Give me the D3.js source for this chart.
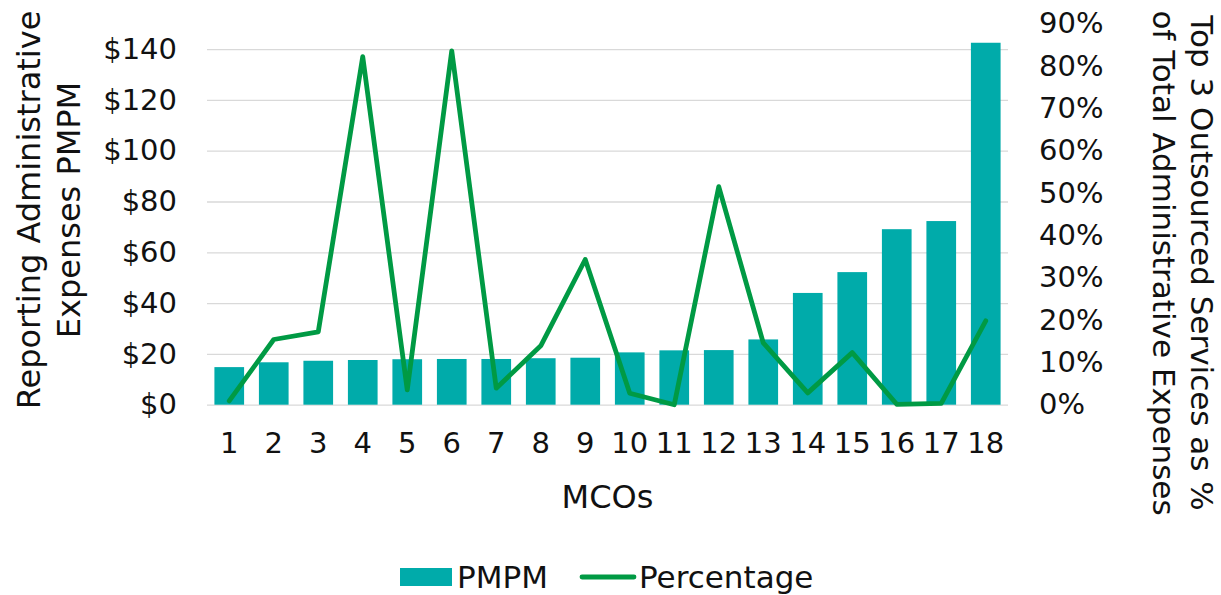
<!DOCTYPE html>
<html>
<head>
<meta charset="utf-8">
<script src="https://cdn.jsdelivr.net/npm/d3@7"></script>
<style>
  html, body { margin: 0; padding: 0; background: #fff; }
  svg { display: block; font-family: "DejaVu Sans", "Open Sans", sans-serif; }
</style>
</head>
<body>
<svg id="chart" width="1221" height="595"></svg>
<script>
const categories = ["1","2","3","4","5","6","7","8","9","10","11","12","13","14","15","16","17","18"];
const pmpm = [14.8, 16.7, 17.3, 17.6, 17.9, 18.0, 18.0, 18.3, 18.5, 20.6, 21.4, 21.5, 25.7, 44.0, 52.2, 69.1, 72.3, 142.5];
const percentage = [0.9, 15.4, 17.2, 82.2, 3.5, 83.6, 3.9, 13.9, 34.3, 2.7, 0.0, 51.5, 14.6, 2.8, 12.3, 0.1, 0.3, 19.8];
const leftTicks = [0, 20, 40, 60, 80, 100, 120, 140];
const rightTicks = [0, 10, 20, 30, 40, 50, 60, 70, 80, 90];
const seriesNames = ["PMPM", "Percentage"];
const leftTitle = ["Reporting Administrative", "Expenses PMPM"];
const rightTitle = ["Top 3 Outsourced Services as %", "of Total Administrative Expenses"];
const xTitle = "MCOs";

const barColor = "#00ABAA";
const lineColor = "#009A44";
const gridColor = "#d9d9d9";
const textColor = "#111";
const tickFont = 29;
const titleFont = 32;

const plot = { left: 207, right: 1008, top: 23.7, bottom: 404.7 };
const svg = d3.select("#chart");

const x = d3.scaleBand().domain(categories).range([plot.left, plot.right]).paddingInner(0.333).paddingOuter(0.1665);
const yL = d3.scaleLinear().domain([0, 150]).range([plot.bottom, plot.top]);
const yR = d3.scaleLinear().domain([0, 90]).range([plot.bottom, plot.top]);

const styleAxis = g => {
  g.attr("font-family", null).attr("font-size", null);
  g.select(".domain").remove();
  g.selectAll("text").attr("font-size", tickFont).attr("fill", textColor);
};

// gridlines
svg.append("g")
  .attr("transform", `translate(${plot.left},0)`)
  .call(d3.axisLeft(yL).tickValues(leftTicks).tickSize(-(plot.right - plot.left)).tickFormat(""))
  .call(g => g.select(".domain").remove())
  .call(g => g.selectAll("line").attr("stroke", gridColor).attr("stroke-width", 1.3));

// left axis labels
svg.append("g")
  .attr("transform", `translate(${plot.left},0)`)
  .call(d3.axisLeft(yL).tickValues(leftTicks).tickSize(0).tickPadding(30).tickFormat(d => "$" + d))
  .call(styleAxis);

// right axis labels
svg.append("g")
  .attr("transform", `translate(${plot.right},0)`)
  .call(d3.axisRight(yR).tickValues(rightTicks).tickSize(0).tickPadding(31).tickFormat(d => d + "%"))
  .call(styleAxis);

// bars
svg.append("g").selectAll("rect").data(pmpm).join("rect")
  .attr("x", (d, i) => x(categories[i]))
  .attr("width", x.bandwidth())
  .attr("y", d => yL(d))
  .attr("height", d => yL(0) - yL(d))
  .attr("fill", barColor);

// x axis labels
svg.append("g")
  .attr("transform", `translate(0,${plot.bottom})`)
  .call(d3.axisBottom(x).tickSize(0).tickPadding(28))
  .call(styleAxis);

// line
const line = d3.line()
  .x((d, i) => x(categories[i]) + x.bandwidth() / 2)
  .y(d => yR(d));
svg.append("path").datum(percentage)
  .attr("d", line)
  .attr("fill", "none")
  .attr("stroke", lineColor)
  .attr("stroke-width", 4.8)
  .attr("stroke-linejoin", "round")
  .attr("stroke-linecap", "round");

// left title
const lt = svg.append("text")
  .attr("transform", `translate(0,210) rotate(-90)`)
  .attr("text-anchor", "middle")
  .attr("font-size", titleFont).attr("fill", textColor);
lt.append("tspan").attr("x", 0).attr("y", 40).text(leftTitle[0]);
lt.append("tspan").attr("x", 0).attr("y", 80).text(leftTitle[1]);

// right title
const rt = svg.append("text")
  .attr("transform", `translate(1221,263) rotate(90)`)
  .attr("text-anchor", "middle")
  .attr("font-size", 31).attr("fill", textColor);
rt.append("tspan").attr("x", 0).attr("y", 30).text(rightTitle[0]);
rt.append("tspan").attr("x", 0).attr("y", 68).text(rightTitle[1]);

// x title
svg.append("text")
  .attr("x", (plot.left + plot.right) / 2).attr("y", 508)
  .attr("text-anchor", "middle")
  .attr("font-size", titleFont).attr("fill", textColor)
  .text(xTitle);

// legend
const lg = svg.append("g");
lg.append("rect").attr("x", 400).attr("y", 568).attr("width", 52).attr("height", 18).attr("fill", barColor);
lg.append("text").attr("x", 457).attr("y", 588).attr("font-size", 31).attr("fill", textColor).text(seriesNames[0]);
lg.append("line").attr("x1", 582).attr("x2", 634).attr("y1", 577).attr("y2", 577)
  .attr("stroke", lineColor).attr("stroke-width", 4.8).attr("stroke-linecap", "round");
lg.append("text").attr("x", 639).attr("y", 588).attr("font-size", 31).attr("fill", textColor).text(seriesNames[1]);
</script>
</body>
</html>
